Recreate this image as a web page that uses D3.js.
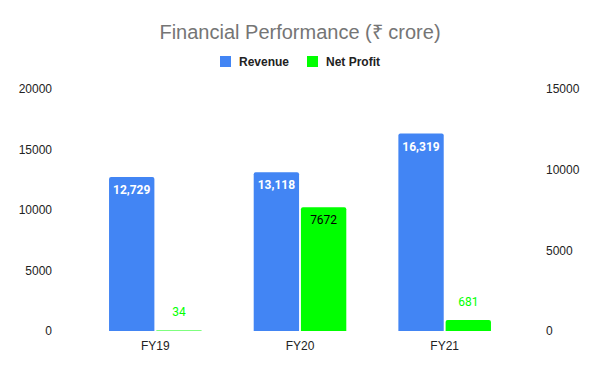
<!DOCTYPE html>
<html>
<head>
<meta charset="utf-8">
<script src="https://cdn.jsdelivr.net/npm/d3@7"></script>
<style>
  body { margin: 0; background: #fff; }
  text { font-family: "Liberation Sans", Arial, sans-serif; }
</style>
</head>
<body>
<svg id="chart" width="600" height="371"></svg>
<script>
var years = ["FY19", "FY20", "FY21"];
var revenue = [12729, 13118, 16319];
var netProfit = [34, 7672, 681];
var revenueLabels = ["12,729", "13,118", "16,319"];
var profitLabels = ["34", "7672", "681"];
var leftTicks = [0, 5000, 10000, 15000, 20000];
var rightTicks = [0, 5000, 10000, 15000];

var BLUE = "#4285f4", GREEN = "#00ff00";
var svg = d3.select("#chart");
var plotTop = 89, plotBottom = 331, plotLeft = 83, plotRight = 517;

var x = d3.scaleBand().domain(years).range([plotLeft, plotRight]).paddingInner(0.36).paddingOuter(0.18);
var inner = d3.scaleBand().domain(["rev", "np"]).range([0, x.bandwidth()]).paddingInner(0.04);
var yL = d3.scaleLinear().domain([0, 20000]).range([plotBottom, plotTop]);
var yR = d3.scaleLinear().domain([0, 15000]).range([plotBottom, plotTop]);

// title
svg.append("text").attr("x", 300).attr("y", 39).attr("text-anchor", "middle")
  .style("font-size", "20px").style("fill", "#757575")
  .text("Financial Performance (₹ crore)");

// legend
var legend = [["Revenue", BLUE, 220], ["Net Profit", GREEN, 307]];
legend.forEach(function(d) {
  svg.append("rect").attr("x", d[2]).attr("y", 56).attr("width", 11).attr("height", 11).attr("fill", d[1]);
  svg.append("text").attr("x", d[2] + 19).attr("y", 66)
    .style("font-size", "12px").style("font-weight", "bold").style("fill", "#222").text(d[0]);
});

// axes
var axL = svg.append("g").attr("transform", "translate(55,0)")
  .call(d3.axisLeft(yL).tickValues(leftTicks).tickSize(0).tickFormat(d3.format("d")));
var axR = svg.append("g").attr("transform", "translate(543,0)")
  .call(d3.axisRight(yR).tickValues(rightTicks).tickSize(0).tickFormat(d3.format("d")));
var axX = svg.append("g").attr("transform", "translate(0," + plotBottom + ")")
  .call(d3.axisBottom(x).tickSize(0).tickPadding(10));
[axL, axR, axX].forEach(function(a) {
  a.select(".domain").remove();
  a.selectAll("text").style("font-size", "12px").style("fill", "#222")
    .style("font-family", "'Liberation Sans', Arial, sans-serif");
});

function roundTop(x0, y0, w, h, r) {
  return "M" + x0 + "," + (y0 + h) + "V" + (y0 + r) + "Q" + x0 + "," + y0 + " " + (x0 + r) + "," + y0 +
    "H" + (x0 + w - r) + "Q" + (x0 + w) + "," + y0 + " " + (x0 + w) + "," + (y0 + r) + "V" + (y0 + h) + "Z";
}

// revenue bars
svg.selectAll(".rev").data(years).enter().append("path")
  .attr("fill", BLUE)
  .attr("d", function(d, i) {
    var bx = x(d) + inner("rev"), by = yL(revenue[i]);
    return roundTop(bx, by, inner.bandwidth(), plotBottom - by, 2);
  });
svg.selectAll(".revlab").data(years).enter().append("text")
  .attr("x", function(d) { return x(d) + inner("rev") + inner.bandwidth() / 2; })
  .attr("y", function(d, i) { return yL(revenue[i]) + 17; })
  .attr("text-anchor", "middle")
  .style("font-family", "Roboto, sans-serif").style("font-size", "12px").style("font-weight", "bold")
  .style("fill", "#fff")
  .text(function(d, i) { return revenueLabels[i]; });

// net profit bars
svg.selectAll(".np").data(years).enter().append("path")
  .attr("fill", GREEN)
  .attr("d", function(d, i) {
    var bx = x(d) + inner("np"), by = yR(netProfit[i]);
    var h = plotBottom - by;
    return roundTop(bx, by, inner.bandwidth(), h, Math.min(2, h / 2));
  });
svg.selectAll(".nplab").data(years).enter().append("text")
  .attr("x", function(d) { return x(d) + inner("np") + inner.bandwidth() / 2; })
  .attr("y", function(d, i) {
    var by = yR(netProfit[i]);
    return plotBottom - by > 40 ? by + 17 : by - 14;
  })
  .attr("text-anchor", "middle")
  .style("font-family", "Roboto, sans-serif").style("font-size", "12px")
  .style("fill", function(d, i) { return plotBottom - yR(netProfit[i]) > 40 ? "#000" : GREEN; })
  .text(function(d, i) { return profitLabels[i]; });
</script>
</body>
</html>
